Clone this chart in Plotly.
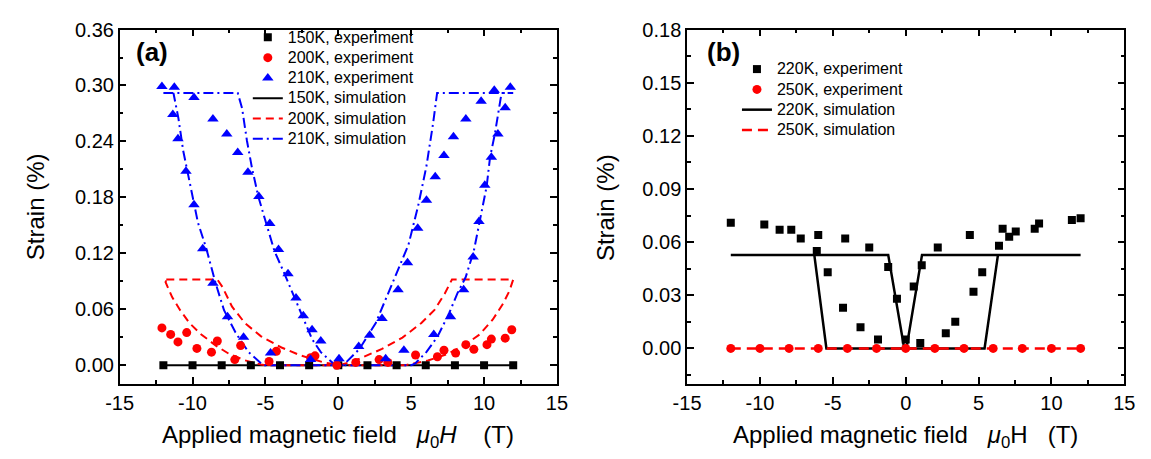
import plotly.graph_objects as go

FONT = "Arial, 'Liberation Sans', sans-serif"
W, H = 1151, 459

# ---------------- panel (a) ----------------
# experiment: applied field (T) and strain (%)
h_150k_exp = [-12, -10, -8, -6, -4, -2, 0, 2, 4, 6, 8, 10, 12]
s_150k_exp = [0.0, 0.0, 0.0, 0.0, 0.0, 0.0, 0.0, 0.0, 0.0, 0.0, 0.0, 0.0, 0.0]

h_200k_exp = [-12.1, -11.5, -11.0, -10.4, -9.7, -8.7, -8.3, -7.1, -6.7, -4.75, -4.25,
              -1.9, -1.6, -0.1, 1.2, 2.8, 3.4, 5.3, 6.8, 7.25, 8.05, 8.75, 9.3, 10.2,
              10.5, 11.45, 11.9]
s_200k_exp = [0.040, 0.033, 0.025, 0.035, 0.018, 0.014, 0.026, 0.006, 0.021, 0.004, 0.015,
              0.008, 0.010, 0.000, 0.003, 0.006, 0.003, 0.011, 0.009, 0.016, 0.013, 0.022,
              0.017, 0.022, 0.028, 0.029, 0.038]

h_210k_exp = [-12.1, -11.25, -11.35, -11.0, -10.45, -9.9, -9.9, -9.3, -8.6, -8.6, -7.65,
              -7.6, -6.9, -6.5, -6.2, -5.45, -4.7, -4.65, -4.1, -3.45, -2.9, -2.4, -1.8,
              -1.2, -1.9, 0.05, 1.4, 2.15, 3.0, 3.25, 4.1, 4.5, 4.75, 5.45, 6.05, 6.55,
              6.65, 7.25, 7.7, 7.9, 8.6, 8.75, 9.25, 9.65, 9.8, 10.05, 10.5, 10.7, 10.95,
              11.45, 11.8]
s_210k_exp = [0.299, 0.298, 0.269, 0.243, 0.208, 0.287, 0.172, 0.125, 0.264, 0.088, 0.248,
              0.052, 0.228, 0.030, 0.207, 0.181, 0.152, 0.013, 0.124, 0.098, 0.072, 0.053,
              0.038, 0.026, 0.006, 0.007, 0.020, 0.032, 0.050, 0.007, 0.081, 0.016, 0.110,
              0.147, 0.177, 0.033, 0.202, 0.225, 0.052, 0.245, 0.081, 0.264, 0.116, 0.154,
              0.283, 0.193, 0.223, 0.295, 0.248, 0.276, 0.298]

# simulation (hysteresis loops traced as one path each)
h_150k_sim = [-12, 12]
s_150k_sim = [0.0, 0.0]

h_200k_sim = [-11.8, -8.3, -7.95, -7.3, -6.4, -5.3, -3.9, -2.6, -1.0, -0.1,
              0.3, 1.0, 1.7, 3.0, 4.4, 5.7, 6.6, 7.3, 7.8, 12.0,
              11.75, 11.3, 10.6, 9.7, 8.6, 7.5, 6.15, 5.0, 4.6,
              -5.0, -5.3, -6.4, -7.5, -8.4, -9.4, -10.2, -10.85, -11.4, -11.85, -11.8]
s_200k_sim = [0.092, 0.092, 0.084, 0.063, 0.045, 0.031, 0.019, 0.0105, 0.003, 0.0007,
              0.001, 0.004, 0.0087, 0.0174, 0.0296, 0.0453, 0.0593, 0.0767, 0.092, 0.092,
              0.080, 0.066, 0.049, 0.033, 0.021, 0.012, 0.005, 0.0015, 0.0,
              0.0, 0.0007, 0.0052, 0.0122, 0.021, 0.033, 0.045, 0.059, 0.073, 0.089, 0.092]

h_210k_sim = [-12.0, -6.9, -6.6, -6.27, -5.94, -5.49, -5.04, -4.37, -3.69, -3.0, -2.4,
              -1.8, -1.2, -0.35, 0.0,
              0.3, 0.56, 1.45, 2.57, 3.13, 3.92, 4.81, 5.48, 6.04, 6.49, 6.78, 12.0,
              11.2, 10.74, 10.41, 10.18, 9.74, 9.29, 8.73, 8.17, 7.61, 6.82, 6.04, 5.26, 5.0,
              -5.04, -5.27, -6.16, -7.05, -7.84, -8.4, -9.07, -9.63, -10.07, -10.64, -10.97,
              -11.31]
s_210k_sim = [0.292, 0.292, 0.2755, 0.241, 0.213, 0.181, 0.157, 0.122, 0.098, 0.072, 0.050,
              0.028, 0.014, 0.002, 0.0,
              0.0, 0.0035, 0.0174, 0.0453, 0.0663, 0.094, 0.129, 0.171, 0.213, 0.258, 0.292, 0.292,
              0.292, 0.248, 0.223, 0.192, 0.157, 0.122, 0.094, 0.077, 0.056, 0.031, 0.014, 0.0017, 0.0,
              0.0, 0.0017, 0.014, 0.035, 0.059, 0.087, 0.126, 0.153, 0.185, 0.230, 0.265,
              0.292]

# ---------------- panel (b) ----------------
h_220k_exp = [-12.0, -9.7, -8.65, -7.85, -7.2, -6.1, -6.0, -5.35, -4.3, -4.15, -3.1, -2.5,
              -1.9, -1.2, -0.6, 0.0, 0.55, 1.0, 1.1, 2.2, 2.75, 3.4, 4.4, 4.65, 5.25, 6.4,
              6.65, 7.1, 7.55, 8.85, 9.15, 11.4, 12.0]
s_220k_exp = [0.071, 0.070, 0.067, 0.067, 0.062, 0.055, 0.064, 0.043, 0.023, 0.062, 0.012,
              0.057, 0.005, 0.046, 0.028, 0.005, 0.035, 0.003, 0.047, 0.057, 0.0085, 0.015,
              0.064, 0.032, 0.043, 0.058, 0.0675, 0.063, 0.066, 0.0675, 0.0705, 0.0725,
              0.0735]

h_250k_exp = [-12, -10, -8, -6, -4, -2, 0, 2, 4, 6, 8, 10, 12]
s_250k_exp = [0.0, 0.0, 0.0, 0.0, 0.0, 0.0, 0.0, 0.0, 0.0, 0.0, 0.0, 0.0, 0.0]

h_220k_sim = [-12.0, -1.2, -0.1, 0.05, 1.12, 12.0, 6.33, 5.41, -5.44, -6.27]
s_220k_sim = [0.0528, 0.0528, 0.0, 0.0, 0.0528, 0.0528, 0.0528, 0.0, 0.0, 0.0528]

h_250k_sim = [-12, 12]
s_250k_sim = [0.0, 0.0]

# tick labels
x_tickvals = [-15, -10, -5, 0, 5, 10, 15]
x_ticktext = ["-15", "-10", "-5", "0", "5", "10", "15"]

BLACK, RED, BLUE = "#000000", "#ff0000", "#0000ff"


def entry(label):
    # legend rows are spaced by the legend font size; the label itself is drawn larger
    return f'<span style="font-size:16px">{label}</span>'


fig = go.Figure()

# panel (a) simulations
fig.add_trace(go.Scatter(x=h_150k_sim, y=s_150k_sim, mode="lines", name=entry("150K, simulation"),
                         line=dict(color=BLACK, width=2), legendrank=4,
                         xaxis="x", yaxis="y", legend="legend"))
fig.add_trace(go.Scatter(x=h_200k_sim, y=s_200k_sim, mode="lines", name=entry("200K, simulation"),
                         line=dict(color=RED, width=2, dash="8px,5px"), legendrank=5,
                         xaxis="x", yaxis="y", legend="legend"))
fig.add_trace(go.Scatter(x=h_210k_sim, y=s_210k_sim, mode="lines", name=entry("210K, simulation"),
                         line=dict(color=BLUE, width=2, dash="10px,4px,2px,4px"), legendrank=6,
                         xaxis="x", yaxis="y", legend="legend"))
# panel (a) experiments
fig.add_trace(go.Scatter(x=h_150k_exp, y=s_150k_exp, mode="markers", name=entry("150K, experiment"),
                         marker=dict(symbol="square", size=8, color=BLACK), legendrank=1,
                         xaxis="x", yaxis="y", legend="legend"))
fig.add_trace(go.Scatter(x=h_200k_exp, y=s_200k_exp, mode="markers", name=entry("200K, experiment"),
                         marker=dict(symbol="circle", size=9, color=RED), legendrank=2,
                         xaxis="x", yaxis="y", legend="legend"))
fig.add_trace(go.Scatter(x=h_210k_exp, y=s_210k_exp, mode="markers", name=entry("210K, experiment"),
                         marker=dict(symbol="triangle-up", size=10, color=BLUE), legendrank=3,
                         xaxis="x", yaxis="y", legend="legend"))

# panel (b)
fig.add_trace(go.Scatter(x=h_220k_sim, y=s_220k_sim, mode="lines", name=entry("220K, simulation"),
                         line=dict(color=BLACK, width=2.5), legendrank=3,
                         xaxis="x2", yaxis="y2", legend="legend2"))
fig.add_trace(go.Scatter(x=h_250k_sim, y=s_250k_sim, mode="lines", name=entry("250K, simulation"),
                         line=dict(color=RED, width=2.5, dash="10px,6px"), legendrank=4,
                         xaxis="x2", yaxis="y2", legend="legend2"))
fig.add_trace(go.Scatter(x=h_220k_exp, y=s_220k_exp, mode="markers", name=entry("220K, experiment"),
                         marker=dict(symbol="square", size=8, color=BLACK), legendrank=1,
                         xaxis="x2", yaxis="y2", legend="legend2"))
fig.add_trace(go.Scatter(x=h_250k_exp, y=s_250k_exp, mode="markers", name=entry("250K, experiment"),
                         marker=dict(symbol="circle", size=9, color=RED), legendrank=2,
                         xaxis="x2", yaxis="y2", legend="legend2"))

y_bot = 1 - 382 / H
y_top = 1 - 19 / H

axis_common = dict(
    showline=True, linecolor=BLACK, linewidth=1.5, mirror="allticks",
    ticks="inside", ticklen=7, tickwidth=1.5, tickcolor=BLACK,
    showgrid=False, zeroline=False,
    tickfont=dict(family=FONT, size=20, color=BLACK),
)
minor_x = dict(dtick=2.5, tick0=0, ticks="inside", ticklen=4, tickwidth=1.5, tickcolor=BLACK)

fig.update_layout(
    width=W, height=H,
    margin=dict(l=0, r=0, t=0, b=0),
    paper_bgcolor="white", plot_bgcolor="white",
    font=dict(family=FONT, color=BLACK),
    xaxis=dict(domain=[108 / W, 555 / W], range=[-15, 15], anchor="y",
               tickvals=x_tickvals, ticktext=x_ticktext, minor=minor_x, **axis_common),
    yaxis=dict(domain=[y_bot, y_top], range=[-0.02, 0.36], anchor="x",
               tick0=0, dtick=0.06, tickformat=".2f",
               minor=dict(dtick=0.03, tick0=0, ticks="inside", ticklen=4,
                          tickwidth=1.5, tickcolor=BLACK),
               **axis_common),
    xaxis2=dict(domain=[688 / W, 1135 / W], range=[-15, 15], anchor="y2",
                tickvals=x_tickvals, ticktext=x_ticktext, minor=minor_x, **axis_common),
    yaxis2=dict(domain=[y_bot, y_top], range=[-0.02, 0.18], anchor="x2",
                tick0=0, dtick=0.03, tickformat=".2f",
                minor=dict(dtick=0.015, tick0=0, ticks="inside", ticklen=4,
                           tickwidth=1.5, tickcolor=BLACK),
                **axis_common),
    legend=dict(x=239 / W, y=1 - 11.5 / H, xanchor="left", yanchor="top",
                bgcolor="rgba(0,0,0,0)", borderwidth=0,
                font=dict(family=FONT, size=13.3, color=BLACK)),
    legend2=dict(x=739 / W, y=1 - 44 / H, xanchor="left", yanchor="top",
                 bgcolor="rgba(0,0,0,0)", borderwidth=0,
                 font=dict(family=FONT, size=13.3, color=BLACK)),
    showlegend=True,
)

y_title_font = dict(family=FONT, size=24, color=BLACK)
x_title_font = dict(family=FONT, size=24, color=BLACK)
label_font = dict(family=FONT, size=26, color=BLACK)
sp = "\u00a0"
annotations = [
    dict(text="Strain (%)", x=21.5 / W, y=1 - 201 / H, textangle=-90,
         xref="paper", yref="paper", showarrow=False, font=y_title_font,
         xanchor="center", yanchor="middle"),
    dict(text="Strain (%)", x=604 / W, y=1 - 201 / H, textangle=-90,
         xref="paper", yref="paper", showarrow=False, font=y_title_font,
         xanchor="center", yanchor="middle"),
    dict(text=f"Applied magnetic field{sp * 2} <i>μ</i><sub>0</sub><i>H</i>{sp * 4}(T)",
         x=331.5 / W, y=1 - 436 / H, xref="paper", yref="paper", showarrow=False,
         font=x_title_font, xanchor="center", yanchor="middle"),
    dict(text=f"Applied magnetic field{sp * 2} <i>μ</i><sub>0</sub>H{sp * 2} (T)",
         x=911.5 / W, y=1 - 436 / H, xref="paper", yref="paper", showarrow=False,
         font=x_title_font, xanchor="center", yanchor="middle"),
    dict(text="<b>(a)</b>", x=141 / W, y=1 - 42 / H, xref="paper", yref="paper",
         showarrow=False, font=label_font, xanchor="center", yanchor="middle"),
    dict(text="<b>(b)</b>", x=725 / W, y=1 - 42 / H, xref="paper", yref="paper",
         showarrow=False, font=label_font, xanchor="center", yanchor="middle"),
]
fig.update_layout(annotations=annotations)

fig.write_html("out.html")
